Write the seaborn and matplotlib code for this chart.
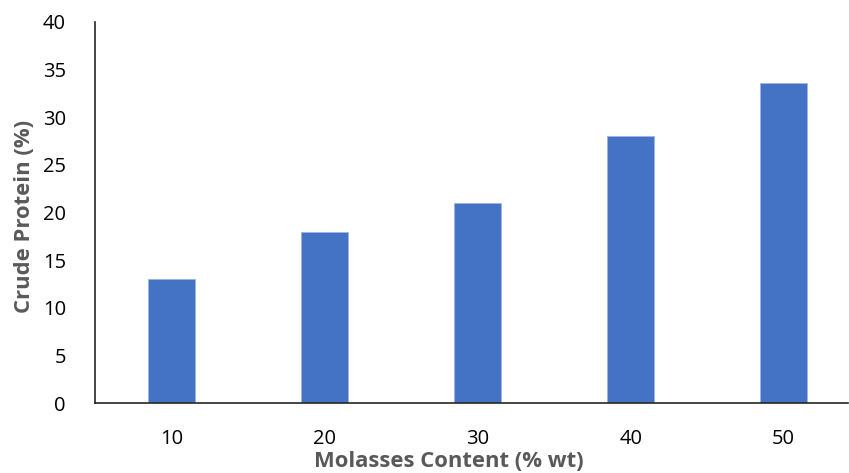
import matplotlib
matplotlib.use("Agg")
import matplotlib.pyplot as plt
import seaborn as sns
import pandas as pd

# Crude protein content by molasses loading
molasses = ["10", "20", "30", "40", "50"]
crude_protein = [13.0, 18.0, 21.0, 28.0, 33.6]

df = pd.DataFrame({"Molasses": molasses, "Protein": crude_protein})

sns.set_theme(style="white")
plt.rcParams["font.family"] = ["Open Sans", "DejaVu Sans"]

fig = plt.figure(figsize=(8.49, 4.73), dpi=100)
ax = fig.add_axes([95 / 849, 70 / 473, 753 / 849, 381 / 473])

sns.barplot(data=df, x="Molasses", y="Protein", color="#4472C4",
            width=0.31, saturation=1, edgecolor="#9DB5E0", linewidth=0.6, ax=ax)

ax.set_ylim(0, 40)
ax.set_yticks(range(0, 41, 5))
ax.set_xlim(-0.5, 4.42)

for side in ("top", "right"):
    ax.spines[side].set_visible(False)
for side in ("left", "bottom"):
    ax.spines[side].set_color("#262626")
    ax.spines[side].set_linewidth(1.2)

ax.tick_params(axis="both", length=0, labelsize=14.5, colors="#000000")
ax.tick_params(axis="y", pad=21)
ax.tick_params(axis="x", pad=19)

ax.set_xlabel("Molasses Content (% wt)", fontsize=15.8, fontweight="bold", color="#595959")
ax.xaxis.set_label_coords(0.47, -0.127)
ax.set_ylabel("Crude Protein (%)", fontsize=15.8, fontweight="bold", color="#595959")
ax.yaxis.set_label_coords(-0.08, 0.49)

fig.savefig("out.png", dpi=100)
